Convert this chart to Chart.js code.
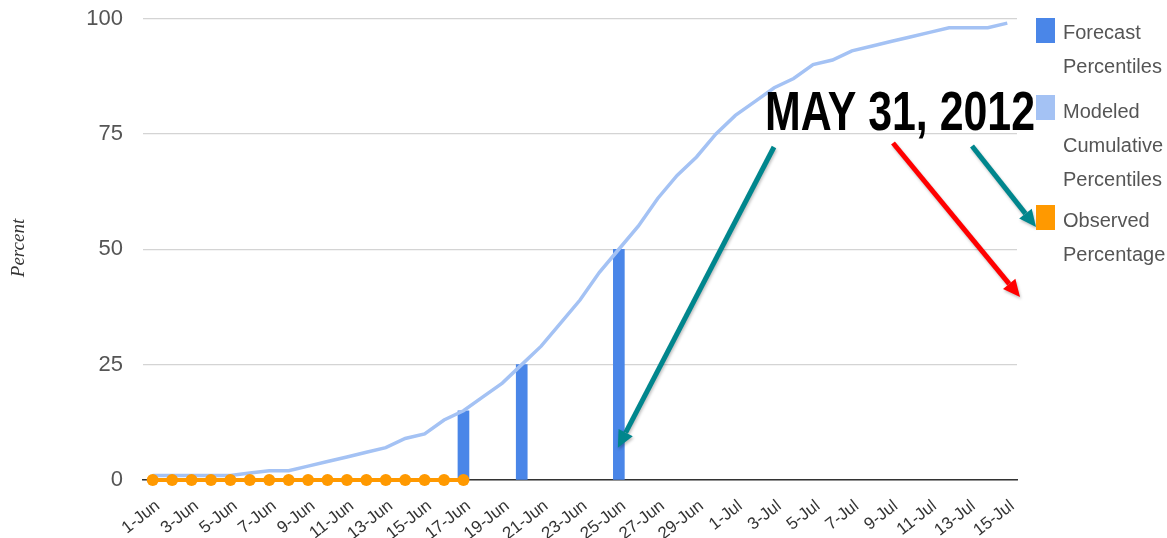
<!DOCTYPE html>
<html>
<head>
<meta charset="utf-8">
<script src="https://cdn.jsdelivr.net/npm/chart.js@4/dist/chart.umd.min.js"></script>
<style>
  html, body { margin: 0; padding: 0; background: #fff; }
  #wrap { position: relative; width: 1167px; height: 538px; overflow: hidden; }
  #chart { position: absolute; left: 0; top: 0; }
  .lg-swatch { position: absolute; left: 1036px; width: 19px; height: 25px; }
  .lg-text { position: absolute; left: 1063px; font-family: "Liberation Sans", Arial, sans-serif;
             font-size: 20px; line-height: 34px; color: #555; white-space: nowrap; }
</style>
</head>
<body>
<div id="wrap">
  <canvas id="chart" width="1167" height="538"></canvas>
  <div class="lg-swatch" style="top:18px;background:#4a86e8"></div>
  <div class="lg-text" style="top:15px">Forecast<br>Percentiles</div>
  <div class="lg-swatch" style="top:95px;background:#a4c2f4"></div>
  <div class="lg-text" style="top:94px">Modeled<br>Cumulative<br>Percentiles</div>
  <div class="lg-swatch" style="top:205px;background:#ff9900"></div>
  <div class="lg-text" style="top:203px">Observed<br>Percentage</div>
</div>
<script>
// Daily categories, 1 June to 15 July
const days = [
  '1-Jun','2-Jun','3-Jun','4-Jun','5-Jun','6-Jun','7-Jun','8-Jun','9-Jun','10-Jun',
  '11-Jun','12-Jun','13-Jun','14-Jun','15-Jun','16-Jun','17-Jun','18-Jun','19-Jun','20-Jun',
  '21-Jun','22-Jun','23-Jun','24-Jun','25-Jun','26-Jun','27-Jun','28-Jun','29-Jun','30-Jun',
  '1-Jul','2-Jul','3-Jul','4-Jul','5-Jul','6-Jul','7-Jul','8-Jul','9-Jul','10-Jul',
  '11-Jul','12-Jul','13-Jul','14-Jul','15-Jul'
];

// Modeled cumulative percentiles, one value per day
const modeledCumulative = [
  1, 1, 1, 1, 1, 1.5, 2, 2, 3, 4,
  5, 6, 7, 9, 10, 13, 15, 18, 21, 25,
  29, 34, 39, 45, 50, 55, 61, 66, 70, 75,
  79, 82, 85, 87, 90, 91, 93, 94, 95, 96,
  97, 98, 98, 98, 99
];

// Observed percentage, 1 June to 17 June
const observedPercentage = [0, 0, 0, 0, 0, 0, 0, 0, 0, 0, 0, 0, 0, 0, 0, 0, 0];

// Forecast percentile bars
const forecastDates = ['17-Jun', '20-Jun', '25-Jun'];
const forecastValues = [15, 25, 50];

const yTicks = [0, 25, 50, 75, 100];

const tickFont = { family: '"Liberation Sans", Arial, sans-serif' };

// Vertical axis title and the date annotation with its arrows
const overlayPlugin = {
  id: 'overlay',
  afterDraw(chart) {
    const ctx = chart.ctx;
    const x = chart.scales.x, y = chart.scales.y;

    ctx.save();
    ctx.translate(19, 248);
    ctx.rotate(-Math.PI / 2);
    ctx.font = 'italic 19px "Liberation Serif", "Times New Roman", serif';
    ctx.fillStyle = '#333';
    ctx.textAlign = 'center';
    ctx.textBaseline = 'middle';
    ctx.fillText('Percent', 0, 0);
    ctx.restore();

    const arrows = [
      { from: [774, 147], to: [x.getPixelForValue(days.indexOf('25-Jun')) - 1, y.getPixelForValue(7)], color: '#00868d' },
      { from: [893, 143], to: [1020, 297], color: '#ff0000' },
      { from: [972, 146], to: [1036, 227], color: '#00868d' }
    ];
    arrows.forEach(a => {
      const [x0, y0] = a.from, [x1, y1] = a.to;
      const ang = Math.atan2(y1 - y0, x1 - x0);
      const head = 17, half = 8;
      const bx = x1 - head * Math.cos(ang), by = y1 - head * Math.sin(ang);
      ctx.save();
      ctx.shadowColor = 'rgba(0,0,0,0.25)';
      ctx.shadowBlur = 3;
      ctx.shadowOffsetX = 1;
      ctx.shadowOffsetY = 2;
      ctx.strokeStyle = a.color;
      ctx.fillStyle = a.color;
      ctx.lineWidth = 5;
      ctx.beginPath();
      ctx.moveTo(x0, y0);
      ctx.lineTo(bx, by);
      ctx.stroke();
      ctx.beginPath();
      ctx.moveTo(x1, y1);
      ctx.lineTo(bx + half * Math.sin(ang), by - half * Math.cos(ang));
      ctx.lineTo(bx - half * Math.sin(ang), by + half * Math.cos(ang));
      ctx.closePath();
      ctx.fill();
      ctx.restore();
    });

    ctx.save();
    ctx.font = 'bold 56px "Liberation Sans", Arial, sans-serif';
    const label = 'MAY 31, 2012';
    const w = ctx.measureText(label).width;
    const targetW = 270;
    ctx.translate(765, 130);
    ctx.scale(targetW / w, 1);
    ctx.fillStyle = '#000';
    ctx.textBaseline = 'alphabetic';
    ctx.fillText(label, 0, 0);
    ctx.restore();
  }
};

new Chart(document.getElementById('chart'), {
  data: {
    labels: days,
    datasets: [
      {
        type: 'line',
        label: 'Observed Percentage',
        data: observedPercentage,
        borderColor: '#ff9900',
        backgroundColor: '#ff9900',
        pointBackgroundColor: '#ff9900',
        pointBorderWidth: 0,
        pointRadius: 6,
        borderWidth: 4,
        clip: false,
        order: 0
      },
      {
        type: 'line',
        label: 'Modeled Cumulative Percentiles',
        data: modeledCumulative,
        borderColor: '#a4c2f4',
        backgroundColor: '#a4c2f4',
        borderWidth: 3.5,
        pointRadius: 0,
        tension: 0,
        clip: false,
        order: 1
      },
      {
        type: 'bar',
        label: 'Forecast Percentiles',
        data: forecastDates.map((d, i) => ({ x: d, y: forecastValues[i] })),
        backgroundColor: '#4a86e8',
        barThickness: 11,
        order: 2
      }
    ]
  },
  options: {
    responsive: false,
    animation: false,
    events: [],
    layout: { padding: { top: 18.5, right: 150, left: 0, bottom: 0 } },
    plugins: {
      legend: { display: false },
      tooltip: { enabled: false },
      title: { display: false }
    },
    scales: {
      x: {
        type: 'category',
        offset: true,
        grid: { display: false, drawTicks: false },
        border: { display: true, color: '#333', width: 1.5 },
        ticks: {
          autoSkip: false,
          minRotation: 38,
          maxRotation: 38,
          padding: 16,
          labelOffset: 5,
          color: '#333',
          font: { ...tickFont, size: 17 },
          callback: (v, i) => (i % 2 === 0 ? days[i] : '')
        },
        afterFit: s => { s.height = 58; s.paddingLeft = 0; s.paddingRight = 0; }
      },
      y: {
        min: 0,
        max: 100,
        afterBuildTicks: s => { s.ticks = yTicks.map(v => ({ value: v })); },
        grid: { color: '#d4d4d4', lineWidth: 1.2, drawTicks: false },
        border: { display: false },
        ticks: {
          padding: 20,
          color: '#555',
          font: { ...tickFont, size: 22 }
        },
        afterFit: s => { s.width = 143; s.paddingTop = 0; s.paddingBottom = 0; }
      }
    }
  },
  plugins: [overlayPlugin]
});
</script>
</body>
</html>
